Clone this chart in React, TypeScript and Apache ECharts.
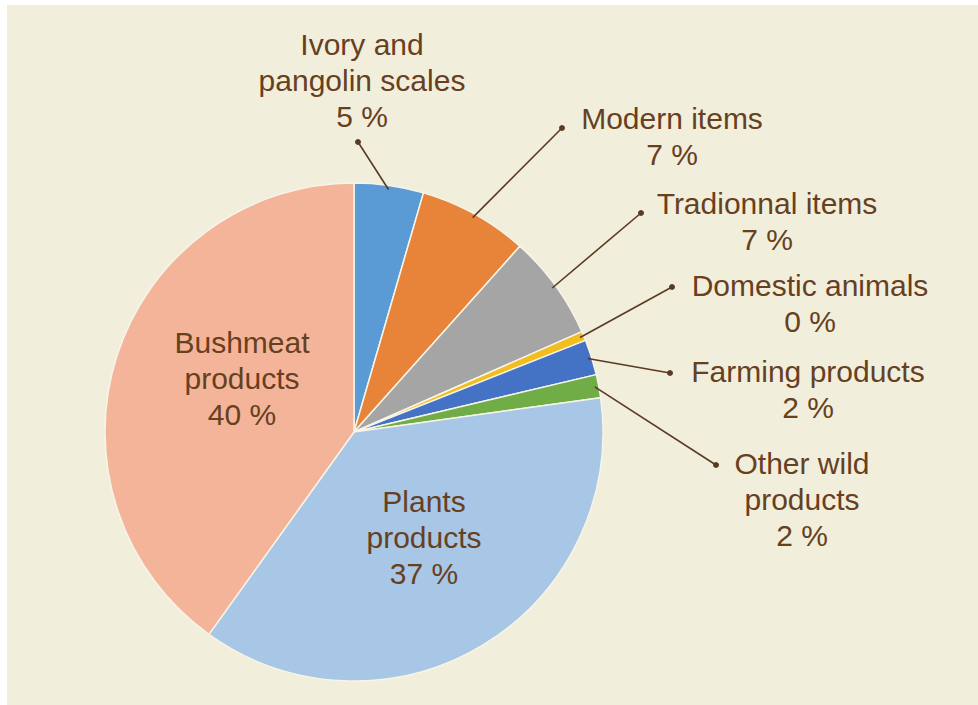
import React, { useEffect, useRef } from "react";
import * as echarts from "echarts";

// ---- data ----
const categories = [
  "Ivory and\npangolin scales",
  "Modern items",
  "Tradionnal items",
  "Domestic animals",
  "Farming products",
  "Other wild\nproducts",
  "Plants\nproducts",
  "Bushmeat\nproducts",
];
const shares = [4.5, 7.1, 6.8, 0.6, 2.3, 1.5, 37.1, 40.1];
const shownPercents = [5, 7, 7, 0, 2, 2, 37, 40];
const sliceColors = [
  "#5B9BD5",
  "#E8843A",
  "#A5A5A5",
  "#F2BE1E",
  "#4472C4",
  "#70AD47",
  "#A8C6E6",
  "#F4B49A",
];

// ---- layout (not data) ----
const CX = 354;
const CY = 432;
const RADIUS = 249;
const LABEL_CENTERS: number[][] = [
  [362, 80],
  [672, 136],
  [767, 221],
  [810, 303],
  [808, 389],
  [802, 499],
  [424, 537],
  [242, 378],
];
const DOT_POS: (number[] | null)[] = [
  [358, 142],
  [562, 128],
  [641, 213],
  [672, 287],
  [670, 373],
  [716, 465],
  null,
  null,
];
const TEXT_COLOR = "#66401F";
const LINE_COLOR = "#5A3A22";
const FONT = "'Liberation Sans', Arial, sans-serif";

export default function App() {
  const ref = useRef<HTMLDivElement>(null);

  useEffect(() => {
    if (!ref.current) return;
    const chart = echarts.init(ref.current, undefined, { renderer: "svg" });

    const total = shares.reduce((a, b) => a + b, 0);
    const midAngles: number[] = [];
    let acc = 0;
    shares.forEach((v) => {
      midAngles.push(((acc + v / 2) / total) * Math.PI * 2);
      acc += v;
    });

    const leaderIdx = DOT_POS.map((p, i) => (p ? i : -1)).filter((i) => i >= 0);

    chart.setOption({
      animation: false,
      backgroundColor: "#ffffff",
      graphic: [
        {
          type: "rect",
          z: -10,
          silent: true,
          shape: { x: 7, y: 5, width: 978 - 7, height: 705 - 5 },
          style: { fill: "#F2EEDC" },
        },
      ],
      series: [
        {
          type: "pie",
          center: [CX, CY],
          radius: [0, RADIUS],
          startAngle: 90,
          clockwise: true,
          avoidLabelOverlap: false,
          z: 2,
          itemStyle: { borderColor: "#F7F4E8", borderWidth: 1.5 },
          emphasis: { disabled: true },
          data: categories.map((c, i) => ({
            name: c,
            value: shares[i],
            itemStyle: { color: sliceColors[i] },
          })),
          label: {
            show: true,
            position: "inside",
            color: TEXT_COLOR,
            fontFamily: FONT,
            fontSize: 30,
            lineHeight: 36,
            align: "center",
            formatter: (p: any) =>
              `${categories[p.dataIndex]}\n${shownPercents[p.dataIndex]} %`,
          },
          labelLine: { show: false },
          labelLayout: (p: any) => {
            const c = LABEL_CENTERS[p.dataIndex];
            return {
              x: c[0],
              y: c[1],
              align: "center",
              verticalAlign: "middle",
            };
          },
        },
        {
          type: "custom",
          coordinateSystem: "none",
          silent: true,
          z: 5,
          data: leaderIdx.map((i) => [i]),
          renderItem: (_params: any, api: any) => {
            const i = api.value(0) as number;
            const a = midAngles[i];
            const r = RADIUS - 4;
            const x1 = CX + r * Math.sin(a);
            const y1 = CY - r * Math.cos(a);
            const d = DOT_POS[i] as number[];
            return {
              type: "group",
              children: [
                {
                  type: "line",
                  shape: { x1, y1, x2: d[0], y2: d[1] },
                  style: { stroke: LINE_COLOR, lineWidth: 1.6 },
                },
                {
                  type: "circle",
                  shape: { cx: d[0], cy: d[1], r: 3 },
                  style: { fill: LINE_COLOR },
                },
              ],
            };
          },
        },
      ],
    });

    return () => chart.dispose();
  }, []);

  return (
    <div
      ref={ref}
      style={{ position: "fixed", left: 0, top: 0, width: 978, height: 705 }}
    />
  );
}
